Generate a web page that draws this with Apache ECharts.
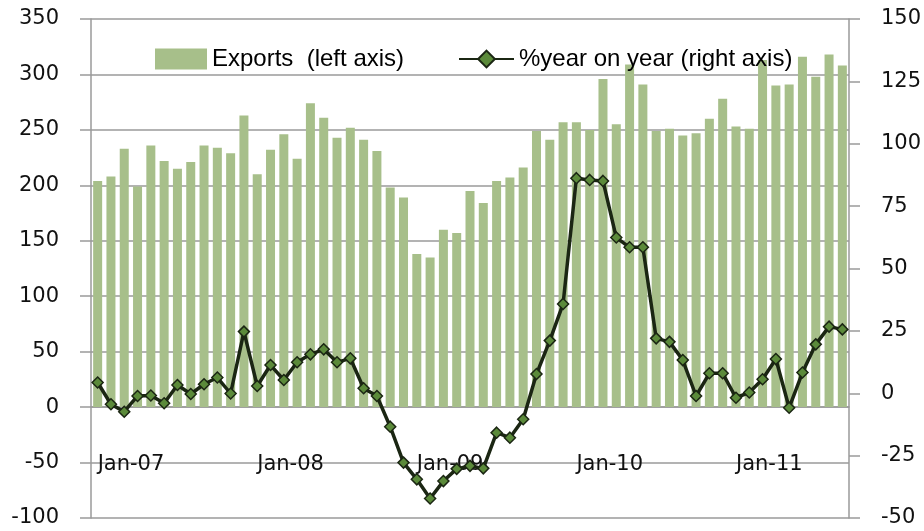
<!DOCTYPE html>
<html>
<head>
<meta charset="utf-8">
<script src="https://cdn.jsdelivr.net/npm/echarts@6/dist/echarts.min.js"></script>
<style>
  html, body { margin: 0; padding: 0; background: #fff; }
  #chart { width: 924px; height: 531px; }
</style>
</head>
<body>
<div id="chart"></div>
<script>
var monthNames = ['Jan','Feb','Mar','Apr','May','Jun','Jul','Aug','Sep','Oct','Nov','Dec'];
var years = ['07','08','09','10','11'];
var monthCount = 57; // Jan-07 .. Sep-11

var exportsVals = [
  204, 208, 233, 199, 236, 222, 215, 221, 236, 234, 229, 263,
  210, 232, 246, 224, 274, 261, 243, 252, 241, 231, 198, 189,
  138, 135, 160, 157, 195, 184, 204, 207, 216, 249, 241, 257,
  257, 250, 296, 255, 309, 291, 249, 251, 245, 247, 260, 278,
  253, 251, 313, 290, 291, 316, 298, 318, 308
];
var yoyVals = [
  4.3, -4.4, -7.4, -1.1, -0.9, -4.0, 3.3, -0.3, 3.6, 6.3, -0.1, 24.7,
  2.9, 11.3, 5.3, 12.4, 15.6, 17.6, 12.4, 14.0, 2.0, -1.1, -13.4, -27.8,
  -34.5, -42.2, -35.2, -30.3, -29.1, -30.1, -15.8, -17.8, -10.4, 7.7, 21.1, 35.8,
  86.2, 85.5, 85.1, 62.4, 58.5, 58.5, 22.0, 20.6, 13.3, -1.1, 8.0, 8.0,
  -1.8, 0.3, 5.6, 13.7, -5.8, 8.3, 19.6, 26.7, 25.6
];

var categories = [];
for (var i = 0; i < monthCount; i++) {
  categories.push(monthNames[i % 12] + '-' + years[Math.floor(i / 12)]);
}

var gray = '#9a9a9a';
var axisFont = { fontFamily: 'DejaVu Sans', fontSize: 21, color: '#111' };

var chart = echarts.init(document.getElementById('chart'));
chart.setOption({
  backgroundColor: '#fff',
  animation: false,
  grid: { left: 91, right: 75, top: 19, bottom: 13, outerBoundsMode: 'none', containLabel: false },
  legend: [{
    data: [{ name: 'Exports  (left axis)', icon: 'rect' }],
    left: 150, top: 42,
    itemWidth: 52, itemHeight: 21, itemGap: 6,
    textStyle: { fontFamily: 'Liberation Sans', fontSize: 24, color: '#000' }
  }, {
    data: ['%year on year (right axis)'],
    left: 453, top: 42,
    itemWidth: 55, itemHeight: 21,
    textStyle: { fontFamily: 'Liberation Sans', fontSize: 24, color: '#000' }
  }],
  xAxis: [{
    // axis line + ticks sitting on the zero line
    type: 'category',
    data: categories,
    boundaryGap: true,
    axisLine: { onZero: true, onZeroAxisIndex: 0, lineStyle: { color: gray, width: 1.5 } },
    axisTick: { interval: 11, length: 9, lineStyle: { color: gray, width: 1.5 } },
    axisLabel: { show: false },
    splitLine: { show: false }
  }, {
    // labels only, placed inside the plot near the -50 line
    type: 'category',
    data: categories,
    position: 'bottom',
    offset: -64,
    boundaryGap: true,
    axisLine: { show: false, onZero: false },
    axisTick: { show: false },
    axisLabel: Object.assign({ interval: 11, align: 'left', margin: 0 }, axisFont),
    splitLine: { show: false }
  }],
  yAxis: [{
    type: 'value',
    min: -100, max: 350, interval: 50,
    axisLine: { show: true, lineStyle: { color: gray, width: 1.5 } },
    axisTick: { show: true, length: 11, lineStyle: { color: gray, width: 1.5 } },
    axisLabel: Object.assign({ margin: 32 }, axisFont),
    splitLine: { lineStyle: { color: gray, width: 1.5 } }
  }, {
    type: 'value',
    min: -50, max: 150, interval: 25,
    axisLine: { show: true, lineStyle: { color: gray, width: 1.5 } },
    axisTick: { show: true, length: 11, lineStyle: { color: gray, width: 1.5 } },
    axisLabel: Object.assign({ margin: 32 }, axisFont),
    splitLine: { show: false }
  }],
  series: [{
    name: 'Exports  (left axis)',
    type: 'bar',
    data: exportsVals,
    barWidth: 9,
    itemStyle: { color: '#a7bf8a' }
  }, {
    name: '%year on year (right axis)',
    type: 'line',
    yAxisIndex: 1,
    data: yoyVals,
    symbol: 'diamond',
    symbolSize: 11,
    showAllSymbol: true,
    z: 5,
    lineStyle: { color: '#1b2613', width: 3.5 },
    itemStyle: { color: '#5b8a3a', borderColor: '#1b2613', borderWidth: 1.5 }
  }]
});
</script>
</body>
</html>
